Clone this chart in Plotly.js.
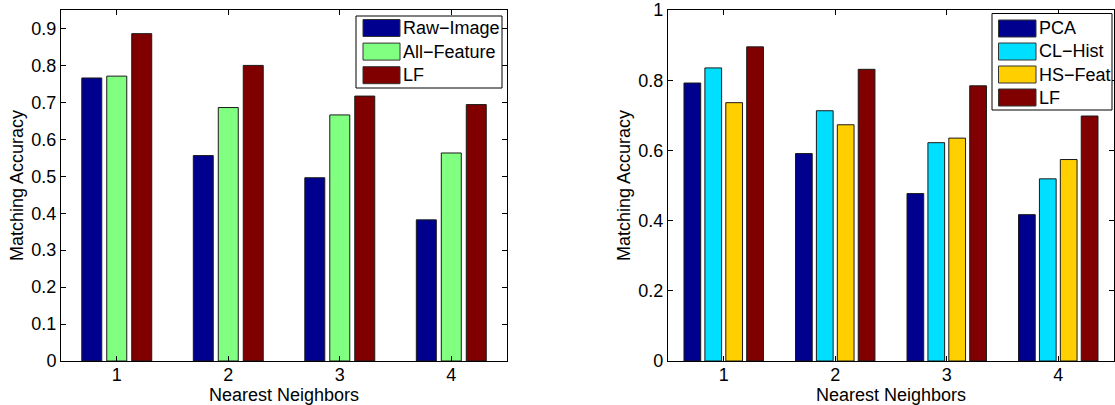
<!DOCTYPE html>
<html>
<head>
<meta charset="utf-8">
<script src="https://cdn.plot.ly/plotly-3.0.1.min.js"></script>
<style>html,body{margin:0;padding:0;background:#fff;}#chart{width:1115px;height:405px;}</style>
</head>
<body>
<div id="chart"></div>
<script>
const categories = [1, 2, 3, 4];
const tickLabels = ["1", "2", "3", "4"];

// Left chart
const leftSeries = ["Raw\u2212Image", "All\u2212Feature", "LF"];
const rawImage   = [0.766, 0.556, 0.496, 0.382];
const allFeature = [0.771, 0.686, 0.666, 0.563];
const lfLeft     = [0.886, 0.800, 0.717, 0.694];

// Right chart
const rightSeries = ["PCA", "CL\u2212Hist", "HS\u2212Feat", "LF"];
const pca     = [0.792, 0.591, 0.477, 0.417];
const clHist  = [0.835, 0.713, 0.622, 0.519];
const hsFeat  = [0.736, 0.673, 0.635, 0.574];
const lfRight = [0.895, 0.831, 0.784, 0.698];

const leftColors  = ["#00008F", "#80FF80", "#800000"];
const rightColors = ["#00008F", "#00DFFF", "#FFCF00", "#800000"];

const FONT = "Liberation Sans, Arial, Helvetica, sans-serif";
const FS = 18;
const W = 1115, H = 405;
const M = {l: 61, r: 1, t: 10, b: 44};
const line = {color: "#1a1a1a", width: 1};

function bar(name, y, color, xa, ya, idx, n, groupWidth) {
  const slot = groupWidth / n;
  const w = slot * 0.8;
  const off = -groupWidth / 2 + idx * slot + (slot - w) / 2;
  return {type: "bar", name: name, x: categories, y: y, xaxis: xa, yaxis: ya,
          width: w, offset: off, showlegend: false,
          marker: {color: color, line: line}, hoverinfo: "skip"};
}

const leftVals = [rawImage, allFeature, lfLeft];
const rightVals = [pca, clHist, hsFeat, lfRight];
const data = [];
leftVals.forEach((v, i) => data.push(bar(leftSeries[i], v, leftColors[i], "x", "y", i, 3, 0.672)));
rightVals.forEach((v, i) => data.push(bar(rightSeries[i], v, rightColors[i], "x2", "y2", i, 4, 0.75)));

// Legend boxes (MATLAB style), placed in paper coordinates from pixel offsets
const pw = W - M.l - M.r, ph = H - M.t - M.b;
const px = v => (v - M.l) / pw;
const py = v => 1 - (v - M.t) / ph;
const shapes = [], annotations = [];
function legendBox(names, colors, box, symX, textX, firstY, pitch) {
  shapes.push({type: "rect", xref: "paper", yref: "paper", layer: "above",
    x0: px(box[0]), x1: px(box[1]), y0: py(box[2]), y1: py(box[3]),
    fillcolor: "#fff", line: {color: "#000", width: 1}});
  names.forEach((nm, i) => {
    const cy = firstY + i * pitch;
    shapes.push({type: "rect", xref: "paper", yref: "paper", layer: "above",
      x0: px(symX[0]), x1: px(symX[1]), y0: py(cy - 8.5), y1: py(cy + 8.5),
      fillcolor: colors[i], line: {color: "#333", width: 1}});
    annotations.push({xref: "paper", yref: "paper", x: px(textX), y: py(cy),
      xanchor: "left", yanchor: "middle", showarrow: false, text: nm,
      font: {family: FONT, size: FS, color: "#000"}});
  });
}
legendBox(leftSeries, leftColors, [356, 502, 16, 88], [363, 400], 401, 28, 23.6);
legendBox(rightSeries, rightColors, [992, 1112, 13.5, 110], [998.5, 1036], 1036.5, 28.5, 23);

const axCommon = {
  showline: true, linecolor: "#000", linewidth: 1, mirror: "ticks",
  ticks: "inside", ticklen: 5, tickcolor: "#000", showgrid: false, zeroline: false,
  tickfont: {family: FONT, size: FS, color: "#000"}, automargin: false
};

const layout = {
  width: W, height: H, margin: M,
  paper_bgcolor: "#fff", plot_bgcolor: "#fff",
  barmode: "overlay", showlegend: false,
  font: {family: FONT, size: FS, color: "#000"},
  xaxis: Object.assign({}, axCommon, {domain: [0, 0.4236], range: [0.5, 4.5], anchor: "y",
          tickvals: categories, ticktext: tickLabels, ticklabelstandoff: -3,
          title: {text: "Nearest Neighbors", font: {family: FONT, size: FS}, standoff: 0}}),
  yaxis: Object.assign({}, axCommon, {domain: [0, 1], range: [0, 0.95], anchor: "x",
          tickvals: [0,0.1,0.2,0.3,0.4,0.5,0.6,0.7,0.8,0.9],
          ticktext: ["0","0.1","0.2","0.3","0.4","0.5","0.6","0.7","0.8","0.9"],
          title: {text: "Matching Accuracy", font: {family: FONT, size: FS}, standoff: 3}}),
  xaxis2: Object.assign({}, axCommon, {domain: [0.5764, 1], range: [0.5, 4.5], anchor: "y2",
          tickvals: categories, ticktext: tickLabels, ticklabelstandoff: -3,
          title: {text: "Nearest Neighbors", font: {family: FONT, size: FS}, standoff: 0}}),
  yaxis2: Object.assign({}, axCommon, {domain: [0, 1], range: [0, 1], anchor: "x2",
          tickvals: [0, 0.2, 0.4, 0.6, 0.8, 1],
          ticktext: ["0", "0.2", "0.4", "0.6", "0.8", "1"],
          title: {text: "Matching Accuracy", font: {family: FONT, size: FS}, standoff: 3}}),
  shapes: shapes,
  annotations: annotations
};

Plotly.newPlot("chart", data, layout, {displayModeBar: false, staticPlot: true});
</script>
</body>
</html>
